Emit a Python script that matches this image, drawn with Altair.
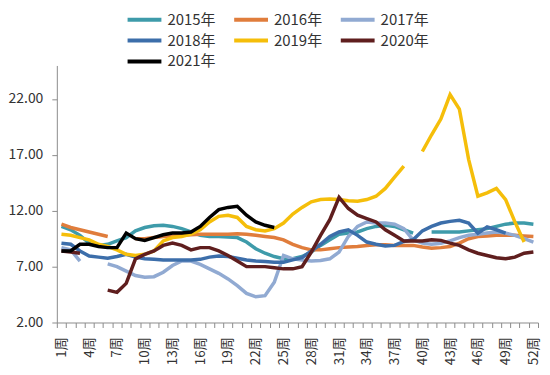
import altair as alt
import pandas as pd

N = None
weeks = list(range(1, 53))
years = ["2015年", "2016年", "2017年", "2018年", "2019年", "2020年", "2021年"]
colors = ["#3E9BAA", "#E07D3C", "#91AAD2", "#3C6EAA", "#F5BE0A", "#5F1E1E", "#000000"]

y2015 = [10.6, 10.3, 9.8, 9.1, 8.9, 9.0, 9.3, 9.6, 10.2, 10.5, 10.65, 10.7, 10.6, 10.4, 10.1, 9.8,
         9.7, 9.7, 9.65, 9.6, 9.2, 8.6, 8.2, 7.9, 7.7, 7.7, 7.9, 8.3, 8.9, 9.4, 9.9, 10.0,
         10.1, 10.4, 10.6, 10.7, 10.6, 10.3, 10.0, N, 10.1, 10.1, 10.1, 10.1, 10.2, 10.3,
         10.4, 10.6, 10.8, 10.9, 10.9, 10.8]
y2016 = [10.8, 10.5, 10.3, 10.1, 9.9, 9.7, N, N, 9.5, 9.5, 9.6, 9.7, 9.75, 9.8, 9.85, 9.9,
         9.9, 9.9, 9.9, 9.95, 9.9, 9.8, 9.7, 9.6, 9.4, 9.0, 8.7, 8.5, 8.5, 8.6, 8.7, 8.75,
         8.8, 8.9, 8.95, 8.95, 8.9, 8.9, 8.9, 8.75, 8.65, 8.7, 8.8, 9.1, 9.5, 9.7,
         9.75, 9.8, 9.8, 9.8, 9.75, 9.7]
y2017 = [8.7, 8.5, 7.5, N, N, 7.25, 7.0, 6.6, 6.2, 6.05, 6.1, 6.5, 7.1, 7.5, 7.5, 7.2,
         6.8, 6.4, 5.9, 5.3, 4.6, 4.3, 4.4, 5.6, 8.0, 7.7, 7.6, 7.5, 7.55, 7.7, 8.3, 9.7,
         10.6, 11.0, 10.9, 10.9, 10.8, 10.4, 9.4, 9.1, 9.0, 9.1, 9.3, 9.6, 9.8, 9.9,
         10.0, 10.1, 10.0, 9.8, 9.5, 9.2]
y2018 = [9.1, 9.0, 8.4, 7.95, 7.85, 7.75, 7.9, 8.1, 7.85, 7.7, 7.65, 7.6, 7.6, 7.6, 7.6, 7.65,
         7.85, 7.95, 7.9, 7.75, 7.6, 7.5, 7.45, 7.4, 7.4, 7.6, 7.8, 8.4, 9.0, 9.7, 10.1, 10.3,
         9.8, 9.2, 9.0, 8.85, 8.9, 9.25, 9.4, 10.2, 10.6, 10.9, 11.05, 11.15, 10.9, 10.0,
         10.55, 10.3, 10.0, N, N, N]
y2019 = [9.9, 9.8, 9.6, 9.4, 9.0, 8.8, 8.5, 8.1, 8.0, 8.1, 8.4, 9.3, 9.6, 9.7, 9.9, 10.3,
         11.0, 11.5, 11.6, 11.4, 10.6, 10.3, 10.2, 10.4, 10.9, 11.7, 12.3, 12.8, 13.0, 13.05, 13.0, 12.9,
         12.85, 13.0, 13.3, 14.0, 15.0, 16.0, N, 17.3, 18.8, 20.2, 22.4, 21.1, 16.6, 13.3,
         13.6, 14.0, 13.0, 11.0, 9.2, N]
y2020 = [8.4, 8.3, 8.2, N, N, 4.9, 4.7, 5.5, 7.7, 8.1, 8.4, 8.9, 9.1, 8.9, 8.5, 8.7,
         8.7, 8.4, 8.0, 7.5, 7.0, 7.0, 7.0, 6.9, 6.8, 6.8, 7.0, 8.3, 9.8, 11.2, 13.2, 12.2,
         11.6, 11.3, 11.0, 10.3, 9.8, 9.3, 9.3, 9.3, 9.4, 9.35, 9.1, 8.9, 8.5, 8.2,
         8.0, 7.8, 7.7, 7.85, 8.2, 8.3]
y2021 = [8.4, 8.4, 9.0, 9.0, 8.8, 8.7, 8.7, 10.0, 9.5, 9.35, 9.6, 9.85, 10.0, 10.0, 10.1, 10.6,
         11.4, 12.1, 12.3, 12.4, 11.6, 11.0, 10.7, 10.5] + [N] * 28

series = [y2015, y2016, y2017, y2018, y2019, y2020, y2021]
rows = []
for name, vals in zip(years, series):
    seg = 0
    for w, v in zip(weeks, vals):
        if v is None:
            seg += 1
            continue
        rows.append({"year": name, "week": w, "value": v, "seg": f"{name}-{seg}"})
df = pd.DataFrame(rows)

FONT = "Noto Sans CJK SC"
W, H = 483, 258
band = W / 52
tick_vals = [i + 0.5 for i in range(53)]

lines = alt.Chart(df).mark_line(strokeWidth=3.5).encode(
    x=alt.X("week:Q",
            scale=alt.Scale(domain=[0.5, 52.5], nice=False, zero=False),
            axis=alt.Axis(values=tick_vals, title=None, grid=False,
                          labelExpr="((datum.value - 0.5) % 3 == 0 && datum.value < 52) ? (datum.value + 0.5) + '周' : ''",
                          labelAngle=-90, labelOffset=band / 2, labelFontSize=13.5,
                          labelFont=FONT, labelColor="#333333", labelPadding=9,
                          labelOverlap=False, labelFlush=False,
                          tickSize=5, tickColor="#8c8c8c", domainColor="#8c8c8c")),
    y=alt.Y("value:Q",
            scale=alt.Scale(domain=[2, 25], nice=False, zero=False),
            axis=alt.Axis(values=[2, 7, 12, 17, 22], format=".2f", title=None, grid=False,
                          labelFontSize=14, labelFont=FONT, labelColor="#333333",
                          labelPadding=9, tickSize=5, tickColor="#8c8c8c",
                          domainColor="#8c8c8c")),
    color=alt.Color("year:N", scale=alt.Scale(domain=years, range=colors),
                    legend=alt.Legend(title=None, orient="none", legendX=80, legendY=-54,
                                      direction="horizontal",
                                      columns=3, columnPadding=10, rowPadding=5,
                                      symbolType="M-3,0H3", symbolSize=128,
                                      symbolStrokeWidth=4, labelOffset=15,
                                      labelFontSize=15, labelFont=FONT,
                                      labelColor="#333333", padding=0)),
    detail="seg:N",
)

chart = lines.properties(
    width=W, height=H,
    autosize=alt.AutoSizeParams(type="none"),
    padding={"left": 49, "top": 57, "right": 4, "bottom": 50},
).configure_view(stroke=None)

chart.save("out.html", embed_options={"renderer": "svg", "actions": False})
